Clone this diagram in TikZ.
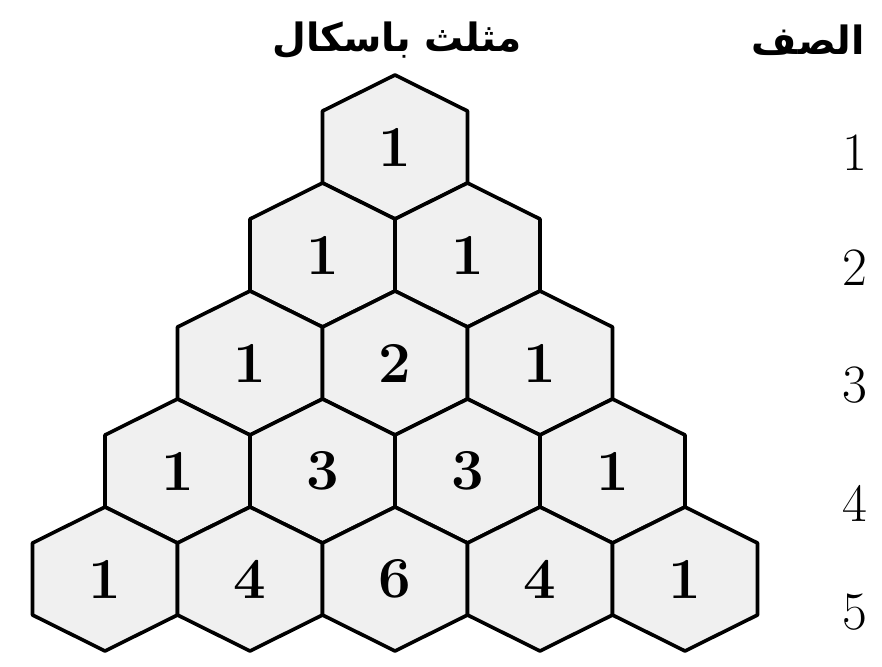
\documentclass[tikz,border=0pt]{standalone}
\usepackage{fontspec}
\newfontfamily\arabicfont[Script=Arabic]{DejaVu Sans}
\TeXXeTstate=1
\usetikzlibrary{positioning}

\tikzset{
    hexcell/.style={fill=gray!12, draw=black, line width=3.6pt, line join=round},
    numlabel/.style={font=\fontsize{58}{62}\selectfont\bfseries, inner sep=0pt},
    rowlabel/.style={font=\fontsize{54}{60}\selectfont, inner sep=0pt},
    headlabel/.style={font=\fontsize{39}{44}\selectfont\arabicfont\bfseries, inner sep=0pt}
}

\begin{document}
\begin{tikzpicture}[x=1pt, y=-1pt]

    \useasboundingbox (0,0) rectangle (882,666);

    % headings
    \node[headlabel] (title) at (397, 40) {\beginR مثلث باسكال\endR};
    \node[headlabel] (rowhead) at (808, 40) {\beginR الصف\endR};

    % hexagon cells, row by row
    \foreach \row [count=\r] in {{1},{1,1},{1,2,1},{1,3,3,1},{1,4,6,4,1}} {
        \foreach \v [count=\k] in \row {
            \pgfmathsetmacro\cx{395+(2*\k-1-\r)*72.5}
            \pgfmathsetmacro\cy{147+(\r-1)*108}
            \draw[hexcell] (\cx,\cy) +(0,-72) -- +(72.5,-36) -- +(72.5,36)
                -- +(0,72) -- +(-72.5,36) -- +(-72.5,-36) -- cycle;
            \node[numlabel] (c\r-\k) at (\cx,\cy) {\v};
        }
    }

    % row numbers
    \foreach \r/\y in {1/153, 2/268, 3/385, 4/503, 5/612} {
        \node[rowlabel] (r\r) at (855, \y) {\r};
    }

\end{tikzpicture}
\end{document}
